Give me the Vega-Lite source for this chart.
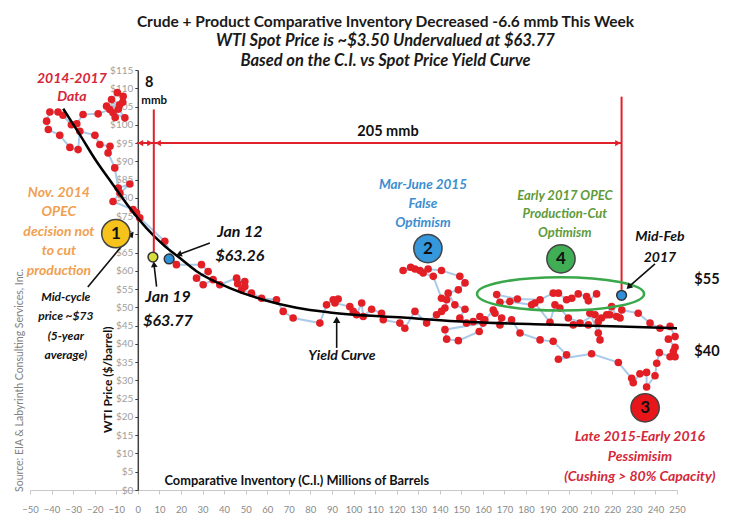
{
  "$schema": "https://vega.github.io/schema/vega-lite/v6.json",
  "width": 647,
  "height": 420,
  "autosize": "none",
  "padding": {"left": 30, "top": 70, "right": 52, "bottom": 38},
  "background": "white",
  "config": {"view": {"stroke": null}, "font": "Lato"},
  "title": {
    "text": "Crude + Product Comparative Inventory Decreased -6.6 mmb This Week",
    "subtitle": ["WTI Spot Price is ~$3.50 Undervalued at $63.77", "Based on the C.I. vs Spot Price Yield Curve"],
    "font": "Lato", "fontSize": 15.5, "fontWeight": "bold", "color": "#1a1a1a",
    "subtitleFont": "Lato", "subtitleFontSize": 16.5, "subtitleFontStyle": "italic", "subtitleFontWeight": "bold",
    "subtitleColor": "#1a1a1a", "subtitlePadding": 3, "subtitleLineHeight": 19.5,
    "anchor": "middle", "dx": 32, "dy": 4, "offset": 0
  },
  "resolve": {"scale": {"color": "independent"}},
  "encoding": {
    "x": {"field": "x", "type": "quantitative", "scale": {"domain": [-50, 250], "nice": false, "zero": false},
      "axis": {"values": [-50,-40,-30,-20,-10,0,10,20,30,40,50,60,70,80,90,100,110,120,130,140,150,160,170,180,190,200,210,220,230,240,250],
        "title": null, "grid": false, "domainColor": "#c8c8c8", "tickColor": "#c8c8c8", "tickSize": 4,
        "labelColor": "#8a8a8a", "labelFontSize": 9.5, "labelPadding": 10, "labelFlush": false, "labelOverlap": false, "labelFont": "Lato"}},
    "y": {"field": "y", "type": "quantitative", "scale": {"domain": [0, 115], "nice": false, "zero": false},
      "axis": {"values": [0,5,10,15,20,25,30,35,40,45,50,55,60,65,70,75,80,85,90,95,100,105,110,115],
        "labelExpr": "'$' + datum.value", "title": null, "grid": false, "offset": -107.8,
        "domainColor": "#404040", "domainWidth": 1.5, "tickColor": "#404040", "tickSize": 3,
        "labelColor": "#a0a0a0", "labelFontSize": 10, "labelPadding": 2, "labelFont": "Lato"}}
  },
  "datasets": {
    "dots": [
      {"i":1,"x":-6.8,"y":107.8},{"i":2,"x":-9.5,"y":108.8},{"i":3,"x":-12.2,"y":106.9},{"i":4,"x":-8.5,"y":105.5},
      {"i":5,"x":-14.5,"y":105.1},{"i":6,"x":-11.5,"y":103.3},{"i":7,"x":-6,"y":101.9},{"i":8,"x":-9,"y":104.3},
      {"i":9,"x":-7,"y":106.2},{"i":10,"x":-10.5,"y":102},{"i":11,"x":-13,"y":104.2},{"i":12,"x":-18.4,"y":103},
      {"i":13,"x":-25.4,"y":102.8},{"i":14,"x":-28.3,"y":100.3},{"i":15,"x":-30.8,"y":100},{"i":16,"x":-34.7,"y":102.6},
      {"i":17,"x":-37,"y":103.5},{"i":18,"x":-40.8,"y":103.5},{"i":19,"x":-42.3,"y":101},{"i":20,"x":-41.5,"y":98.7},
      {"i":21,"x":-36.2,"y":97.1},{"i":22,"x":-31.5,"y":93.8},{"i":23,"x":-27.7,"y":93.2},{"i":24,"x":-26.9,"y":98.2},
      {"i":25,"x":-19.9,"y":97.1},{"i":26,"x":-17.6,"y":94.6},{"i":27,"x":-12.9,"y":94.1},{"i":28,"x":-13.8,"y":92.3},
      {"i":29,"x":-10.7,"y":88.2},{"i":30,"x":-9.1,"y":82.7},{"i":31,"x":-3.7,"y":83.8},{"i":32,"x":-8.3,"y":81.3},
      {"i":33,"x":-11.5,"y":79},{"i":34,"x":-2.2,"y":76.8},{"i":35,"x":-0.6,"y":75.9},{"i":36,"x":0.9,"y":74.5},
      {"i":37,"x":12.5,"y":68.1},{"i":38,"x":17.9,"y":61.7},{"i":39,"x":29.5,"y":61.7},{"i":40,"x":32.6,"y":59.8},
      {"i":41,"x":27.2,"y":58},{"i":42,"x":30.3,"y":56.2},{"i":43,"x":34.9,"y":57.6},{"i":44,"x":38,"y":56.2},
      {"i":45,"x":45.8,"y":58},{"i":46,"x":49.6,"y":57.1},{"i":47,"x":46.3,"y":56.5},{"i":48,"x":49.6,"y":55.7},
      {"i":49,"x":48.1,"y":54.8},{"i":50,"x":52.7,"y":53.9},{"i":51,"x":57.4,"y":52.5},{"i":52,"x":64.3,"y":52.1},
      {"i":53,"x":67.4,"y":48.9},{"i":54,"x":72,"y":47.1},{"i":55,"x":84.4,"y":45.7},{"i":56,"x":87.5,"y":50.7},
      {"i":57,"x":90.6,"y":52.1},{"i":58,"x":92.9,"y":52.3},{"i":59,"x":91.4,"y":51.2},{"i":60,"x":98.3,"y":50.2},
      {"i":61,"x":99.9,"y":48.9},{"i":62,"x":101.4,"y":48},{"i":63,"x":103.8,"y":51.2},{"i":64,"x":104.5,"y":47.5},
      {"i":65,"x":108.4,"y":49.5},{"i":66,"x":113,"y":48.4},{"i":67,"x":113.8,"y":46.6},{"i":68,"x":121.5,"y":45.7},
      {"i":69,"x":123.8,"y":44.3},{"i":70,"x":128.5,"y":48.9},{"i":71,"x":133.9,"y":45.7},{"i":72,"x":138.5,"y":48},
      {"i":73,"x":140.8,"y":48.9},{"i":74,"x":142.4,"y":49.8},{"i":75,"x":143.2,"y":52.1},{"i":76,"x":140.8,"y":52.5},
      {"i":77,"x":137,"y":58.5},{"i":78,"x":132.3,"y":59.4},{"i":79,"x":128.5,"y":60.5},{"i":80,"x":123,"y":60.1},
      {"i":81,"x":126.5,"y":61},{"i":82,"x":130.8,"y":60.1},{"i":83,"x":134.6,"y":60.5},{"i":84,"x":140.8,"y":60.1},
      {"i":85,"x":149.3,"y":58.5},{"i":86,"x":151.7,"y":56.7},{"i":87,"x":148.6,"y":54.8},{"i":88,"x":143.9,"y":53.9},
      {"i":89,"x":147,"y":50.7},{"i":90,"x":151.7,"y":49.5},{"i":91,"x":149.3,"y":47.1},{"i":92,"x":152.4,"y":45.7},
      {"i":93,"x":155.5,"y":46.1},{"i":94,"x":158.6,"y":47.5},{"i":95,"x":160.9,"y":46.6},{"i":96,"x":158.3,"y":43.4},
      {"i":97,"x":148.6,"y":40.9},{"i":98,"x":143.2,"y":41.3},{"i":99,"x":142.4,"y":43.9},{"i":100,"x":160.1,"y":45.7},
      {"i":101,"x":164.8,"y":49.3},{"i":102,"x":165.6,"y":48.4},{"i":103,"x":168.7,"y":47.1},{"i":104,"x":167.9,"y":45.2},
      {"i":105,"x":173.3,"y":46.6},{"i":106,"x":177.2,"y":43},{"i":107,"x":186.5,"y":41.1},{"i":108,"x":192.6,"y":40.7},
      {"i":109,"x":198.8,"y":37},{"i":110,"x":195,"y":35.8},{"i":111,"x":210.4,"y":37.3},{"i":112,"x":222.8,"y":34.9},
      {"i":113,"x":229,"y":30.6},{"i":114,"x":229.7,"y":29.4},{"i":115,"x":232.8,"y":31.8},{"i":116,"x":235.9,"y":32.2},
      {"i":117,"x":235.9,"y":28.2},{"i":118,"x":239.8,"y":31.3},{"i":119,"x":240.6,"y":34.7},{"i":120,"x":241.8,"y":37.6},
      {"i":121,"x":246.8,"y":36.5},{"i":122,"x":249.1,"y":36.5},{"i":123,"x":248.3,"y":37.9},{"i":124,"x":249.1,"y":39.1},
      {"i":125,"x":246,"y":41.3},{"i":126,"x":249.1,"y":42},{"i":127,"x":246.8,"y":44.8},{"i":128,"x":242.1,"y":44.3},
      {"i":129,"x":237.5,"y":45.7},{"i":130,"x":232,"y":48.4},{"i":131,"x":224.4,"y":49.3},{"i":132,"x":223.6,"y":47.1},
      {"i":133,"x":218.9,"y":48},{"i":134,"x":215,"y":47.1},{"i":135,"x":222,"y":47.5},{"i":136,"x":219.7,"y":50.2},
      {"i":137,"x":217.4,"y":48},{"i":138,"x":213.5,"y":46.1},{"i":139,"x":214.3,"y":41.1},{"i":140,"x":213.5,"y":43},
      {"i":141,"x":209.6,"y":48.4},{"i":142,"x":212,"y":48},{"i":143,"x":205,"y":45.7},{"i":144,"x":201.9,"y":45.2},
      {"i":145,"x":208.9,"y":45.2},{"i":146,"x":199.6,"y":47.1},{"i":147,"x":195.7,"y":49.8},{"i":148,"x":193.4,"y":50.7},
      {"i":149,"x":191.1,"y":45.9},{"i":150,"x":184.1,"y":51.2},{"i":151,"x":182.6,"y":50.7},{"i":152,"x":172.5,"y":51.6},
      {"i":153,"x":167.9,"y":51.4},{"i":154,"x":166.4,"y":53.5},{"i":155,"x":176,"y":52.3},{"i":156,"x":186.5,"y":52.1},
      {"i":157,"x":192.6,"y":53.9},{"i":158,"x":195,"y":53.9},{"i":159,"x":198.8,"y":52.1},{"i":160,"x":201.2,"y":52.5},
      {"i":161,"x":204.2,"y":53.7},{"i":162,"x":208.1,"y":53},{"i":163,"x":208.9,"y":51.8},{"i":164,"x":212.7,"y":53.7}
    ],
    "curve": [
      {"x":-34.6,"y":104.4},{"x":-26.9,"y":97.3},{"x":-19.2,"y":90},{"x":-11.5,"y":83.6},{"x":-3.7,"y":77.2},
      {"x":4,"y":71.7},{"x":11.7,"y":67.2},{"x":19.5,"y":63.5},{"x":27.2,"y":59.9},{"x":42.7,"y":55.3},
      {"x":58.1,"y":52.1},{"x":73.6,"y":49.9},{"x":89,"y":48.6},{"x":123,"y":47.2},{"x":154,"y":46},
      {"x":190,"y":45.3},{"x":223.6,"y":44.8},{"x":250,"y":44.3}
    ]
  },
  "layer": [
    {
      "data": {"name": "dots"},
      "mark": {"type": "line", "color": "#a9cbe9", "strokeWidth": 2},
      "encoding": {"order": {"field": "i", "type": "quantitative"}}
    },
    {
      "data": {"name": "dots"},
      "mark": {"type": "point", "filled": true, "shape": "circle", "size": 58, "color": "#e31f26", "opacity": 1}
    },
    {
      "data": {"name": "curve"},
      "mark": {"type": "line", "color": "#000000", "strokeWidth": 2.5, "interpolate": "monotone"}
    },
    {
      "data": {"values": [
        {"x": -0.5, "x2": 224.3, "y": 95, "y2": 95},
        {"x": 7.4, "x2": 7.4, "y": 104.2, "y2": 65.2},
        {"x": 224.3, "x2": 224.3, "y": 107.7, "y2": 54.8}
      ]},
      "mark": {"type": "rule", "color": "#e0202a", "strokeWidth": 2},
      "encoding": {"x2": {"field": "x2"}, "y2": {"field": "y2"}}
    },
    {
      "data": {"values": [{"x": 1.2, "y": 95}, {"x": 9.4, "y": 95}]},
      "mark": {"type": "point", "shape": "triangle-left", "filled": true, "size": 40, "color": "#e0202a", "opacity": 1}
    },
    {
      "data": {"values": [{"x": 5.6, "y": 95}, {"x": 222.6, "y": 95}]},
      "mark": {"type": "point", "shape": "triangle-right", "filled": true, "size": 40, "color": "#e0202a", "opacity": 1}
    },
    {
      "data": {"values": [{"x": 196, "y": 53.7}]},
      "mark": {"type": "point", "shape": "M-1,0A1,0.2,0,1,1,1,0A1,0.2,0,1,1,-1,0Z", "size": 27900, "filled": false, "stroke": "#3aa84a", "strokeWidth": 2.5, "opacity": 1}
    },
    {
      "data": {"values": [
        {"x": -23.2, "x2": -2.8, "y": 55.6, "y2": 70.1},
        {"x": 8.7, "x2": 7.5, "y": 55.7, "y2": 61.8},
        {"x": 33.4, "x2": 19, "y": 67.6, "y2": 64.5},
        {"x": 92.2, "x2": 92.2, "y": 38.9, "y2": 46.6},
        {"x": 239.8, "x2": 227.6, "y": 61.9, "y2": 55.6}
      ]},
      "mark": {"type": "rule", "color": "#111111", "strokeWidth": 1.6},
      "encoding": {"x2": {"field": "x2"}, "y2": {"field": "y2"}}
    },
    {
      "data": {"values": [{"x": -2.8, "y": 70.1}]},
      "mark": {"type": "point", "shape": "triangle-up", "filled": true, "size": 45, "color": "#111111", "opacity": 1, "angle": 39}
    },
    {
      "data": {"values": [{"x": 7.5, "y": 61.8}]},
      "mark": {"type": "point", "shape": "triangle-up", "filled": true, "size": 45, "color": "#111111", "opacity": 1, "angle": 354}
    },
    {
      "data": {"values": [{"x": 19, "y": 64.5}]},
      "mark": {"type": "point", "shape": "triangle-up", "filled": true, "size": 45, "color": "#111111", "opacity": 1, "angle": 250}
    },
    {
      "data": {"values": [{"x": 92.2, "y": 46.6}]},
      "mark": {"type": "point", "shape": "triangle-up", "filled": true, "size": 55, "color": "#111111", "opacity": 1, "angle": 0}
    },
    {
      "data": {"values": [{"x": 227.6, "y": 55.6}]},
      "mark": {"type": "point", "shape": "triangle-up", "filled": true, "size": 45, "color": "#111111", "opacity": 1, "angle": 227}
    },
    {
      "data": {"values": [{"x": 7, "y": 63.77, "k": "Jan 19"}, {"x": 14.5, "y": 63.26, "k": "Jan 12"}, {"x": 224.3, "y": 53.3, "k": "Mid-Feb 2017"}]},
      "mark": {"type": "point", "filled": true, "shape": "circle", "size": 95, "stroke": "#333333", "strokeWidth": 1.5, "opacity": 1},
      "encoding": {
        "fill": {"field": "k", "type": "nominal", "scale": {"domain": ["Jan 19", "Jan 12", "Mid-Feb 2017"], "range": ["#d6dd3c", "#2f8fd8", "#2f8fd8"]}, "legend": null}
      }
    },
    {
      "data": {"values": [
        {"x": -10.2, "y": 70.2, "n": "1"}, {"x": 134.5, "y": 66.1, "n": "2"},
        {"x": 235.2, "y": 22.5, "n": "3"}, {"x": 196.2, "y": 63.3, "n": "4"}
      ]},
      "layer": [
        {
          "mark": {"type": "point", "filled": true, "shape": "circle", "size": 800, "stroke": "#444444", "strokeWidth": 1.5, "opacity": 1},
          "encoding": {
            "color": {"field": "n", "type": "nominal", "scale": {"domain": ["1", "2", "3", "4"], "range": ["#f6c21b", "#3597dc", "#e8161b", "#3fae55"]}, "legend": null}
          }
        },
        {
          "mark": {"type": "text", "fontSize": 17, "fontWeight": "bold", "color": "#111111", "baseline": "middle", "align": "center"},
          "encoding": {"text": {"field": "n"}}
        }
      ]
    },
    {
      "data": {"values": [{"x": -30.6, "y": 112.4, "t": "2014-2017\nData"}]},
      "mark": {"type": "text", "lineBreak": "\n", "lineHeight": 18, "fontSize": 14, "fontWeight": "bold", "fontStyle": "italic", "color": "#d6263a", "align": "center", "baseline": "middle"},
      "encoding": {"text": {"field": "t"}}
    },
    {
      "data": {"values": [{"x": -36.6, "y": 81.4, "t": "Nov. 2014\nOPEC\ndecision not\nto cut\nproduction"}]},
      "mark": {"type": "text", "lineBreak": "\n", "lineHeight": 19.5, "fontSize": 14, "fontWeight": "bold", "fontStyle": "italic", "color": "#f0a050", "align": "center", "baseline": "middle"},
      "encoding": {"text": {"field": "t"}}
    },
    {
      "data": {"values": [{"x": -33.4, "y": 52.9, "t": "Mid-cycle\nprice ~$73\n(5-year\naverage)"}]},
      "mark": {"type": "text", "lineBreak": "\n", "lineHeight": 19.5, "fontSize": 12, "fontWeight": "bold", "fontStyle": "italic", "color": "#111111", "align": "center", "baseline": "middle"},
      "encoding": {"text": {"field": "t"}}
    },
    {
      "data": {"values": [{"x": 14, "y": 52.9, "t": "Jan 19\n$63.77"}, {"x": 47.3, "y": 70.7, "t": "Jan 12\n$63.26"}]},
      "mark": {"type": "text", "lineBreak": "\n", "lineHeight": 24, "fontSize": 16, "fontWeight": "bold", "fontStyle": "italic", "color": "#111111", "align": "center", "baseline": "middle"},
      "encoding": {"text": {"field": "t"}}
    },
    {
      "data": {"values": [{"x": 94.6, "y": 36.7, "t": "Yield Curve"}, {"x": 242.1, "y": 69.4, "t": "Mid-Feb\n2017"}]},
      "mark": {"type": "text", "lineBreak": "\n", "lineHeight": 21, "fontSize": 14, "fontWeight": "bold", "fontStyle": "italic", "color": "#111111", "align": "center", "baseline": "middle"},
      "encoding": {"text": {"field": "t"}}
    },
    {
      "data": {"values": [{"x": 132.2, "y": 83.6, "t": "Mar-June 2015\nFalse\nOptimism"}]},
      "mark": {"type": "text", "lineBreak": "\n", "lineHeight": 19, "fontSize": 13.5, "fontWeight": "bold", "fontStyle": "italic", "color": "#3b8ed0", "align": "center", "baseline": "middle"},
      "encoding": {"text": {"field": "t"}}
    },
    {
      "data": {"values": [{"x": 198, "y": 80.6, "t": "Early 2017 OPEC\nProduction-Cut\nOptimism"}]},
      "mark": {"type": "text", "lineBreak": "\n", "lineHeight": 18.5, "fontSize": 13, "fontWeight": "bold", "fontStyle": "italic", "color": "#5e9a3a", "align": "center", "baseline": "middle"},
      "encoding": {"text": {"field": "t"}}
    },
    {
      "data": {"values": [{"x": 232.8, "y": 14.5, "t": "Late 2015-Early 2016\nPessimisim\n(Cushing > 80% Capacity)"}]},
      "mark": {"type": "text", "lineBreak": "\n", "lineHeight": 20, "fontSize": 14, "fontWeight": "bold", "fontStyle": "italic", "color": "#d42839", "align": "center", "baseline": "middle"},
      "encoding": {"text": {"field": "t"}}
    },
    {
      "data": {"values": [{"x": 263.9, "y": 57.6, "t": "$55"}, {"x": 263.9, "y": 37.8, "t": "$40"}, {"x": 116, "y": 97.9, "t": "205 mmb"}, {"x": 5.3, "y": 111.4, "t": "8"}]},
      "mark": {"type": "text", "fontSize": 14.5, "fontWeight": "bold", "color": "#111111", "align": "center", "baseline": "middle"},
      "encoding": {"text": {"field": "t"}}
    },
    {
      "data": {"values": [{"x": 7.6, "y": 106.6, "t": "mmb"}]},
      "mark": {"type": "text", "fontSize": 11.5, "fontWeight": "bold", "color": "#111111", "align": "center", "baseline": "middle"},
      "encoding": {"text": {"field": "t"}}
    },
    {
      "data": {"values": [{"x": 73.7, "y": 2.6, "t": "Comparative Inventory (C.I.) Millions of Barrels"}]},
      "mark": {"type": "text", "fontSize": 12.8, "fontWeight": "bold", "color": "#111111", "align": "center", "baseline": "middle"},
      "encoding": {"text": {"field": "t"}}
    },
    {
      "data": {"values": [{"x": -13.9, "y": 30.2, "t": "WTI Price ($/barrel)"}]},
      "mark": {"type": "text", "angle": 270, "fontSize": 12, "fontWeight": "bold", "color": "#111111", "align": "center", "baseline": "middle"},
      "encoding": {"text": {"field": "t"}}
    },
    {
      "data": {"values": [{"x": -54.7, "y": 30, "t": "Source:  EIA & Labyrinth Consulting Services, Inc."}]},
      "mark": {"type": "text", "angle": 270, "fontSize": 10.5, "color": "#808080", "align": "center", "baseline": "middle"},
      "encoding": {"text": {"field": "t"}}
    }
  ]
}
